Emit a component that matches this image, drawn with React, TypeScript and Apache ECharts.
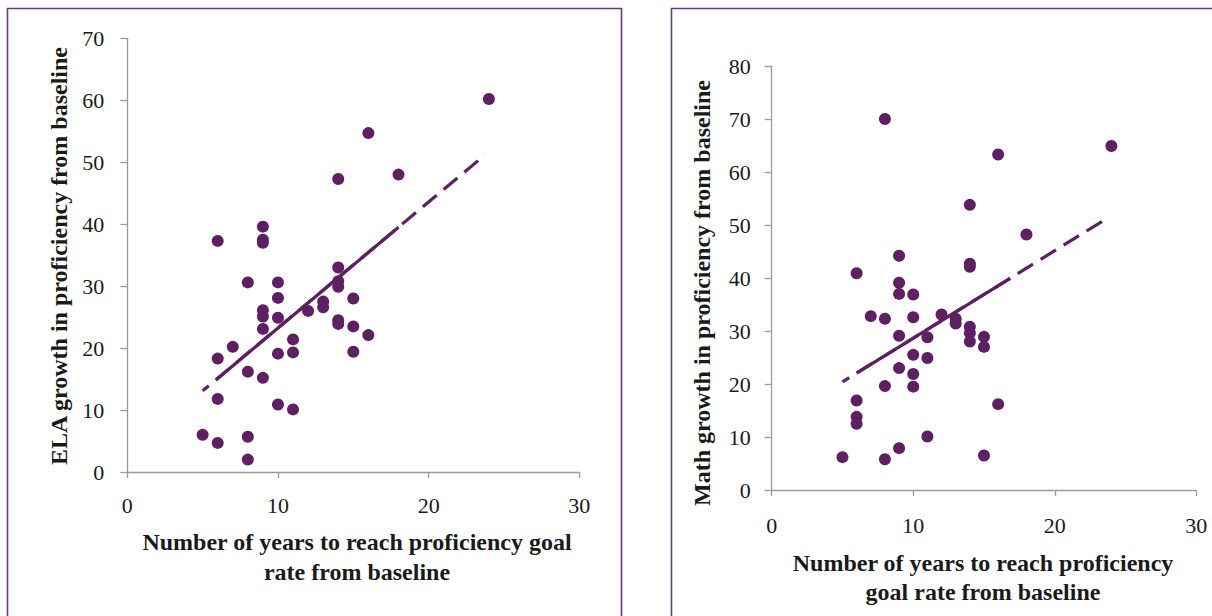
import React, { useEffect, useRef } from "react";
import * as echarts from "echarts";

// ---- Data ----
const xTicks = [0, 10, 20, 30];
const elaYMax = 70;
const mathYMax = 80;

const elaPoints: [number, number][] = [
  [24, 60.2], [16, 54.7], [18, 48.0], [14, 47.3], [9, 39.6], [9, 37.5], [9, 37.0],
  [6, 37.3], [14, 33.0], [14, 30.8], [14, 29.9], [8, 30.6], [10, 30.6], [10, 28.1],
  [15, 28.0], [13, 27.5], [13, 26.6], [12, 26.0], [9, 26.1], [9, 25.1], [10, 24.9],
  [14, 24.5], [14, 23.9], [9, 23.1], [15, 23.5], [16, 22.1], [11, 21.4], [7, 20.2],
  [10, 19.1], [11, 19.3], [15, 19.4], [6, 18.3], [8, 16.2], [9, 15.2], [6, 11.8],
  [10, 10.9], [11, 10.1], [5, 6.0], [6, 4.7], [8, 5.7], [8, 2.0],
];
const elaTrendDashed: [number, number][] = [[5, 13.1], [23.75, 51.2]];
const elaTrendSolid: [number, number][] = [[5.9, 14.9], [18, 39.5]];

const mathPoints: [number, number][] = [
  [8, 70.0], [24, 64.9], [16, 63.3], [14, 53.8], [18, 48.2], [9, 44.2], [14, 42.7],
  [14, 42.1], [6, 40.9], [9, 39.1], [9, 37.0], [10, 36.9], [7, 32.8], [8, 32.3],
  [10, 32.6], [12, 33.1], [13, 32.3], [13, 31.4], [14, 30.8], [14, 29.6], [14, 28.0],
  [15, 28.9], [15, 27.0], [9, 29.1], [11, 28.8], [10, 25.5], [11, 24.9], [9, 23.0],
  [10, 21.9], [8, 19.6], [10, 19.5], [6, 16.9], [6, 13.8], [6, 12.5], [16, 16.2],
  [11, 10.1], [9, 7.9], [5, 6.2], [8, 5.8], [15, 6.5],
];
const mathTrendDashed: [number, number][] = [[5, 20.4], [23.6, 51.1]];
const mathTrendSolid: [number, number][] = [[6, 22.05], [16.85, 39.95]];

const leftYTitle = "ELA growth in proficiency from baseline";
const rightYTitle = "Math growth in proficiency from baseline";
const leftXTitle = "Number of years to reach proficiency goal\nrate from baseline";
const rightXTitle = "Number of years to reach proficiency\ngoal rate from baseline";

// ---- Styles ----
const PURPLE = "#5f1f63";
const BORDER = "#6b3a7a";
const AXIS = "#9b9b9b";
const FONT = "'Liberation Serif', 'DejaVu Serif', serif";

function xAxisCfg(gridIndex: number, margin: number) {
  return {
    type: "value",
    gridIndex,
    min: xTicks[0],
    max: xTicks[xTicks.length - 1],
    interval: 10,
    axisLine: { show: true, lineStyle: { color: AXIS, width: 1.3 } },
    axisTick: { show: true, inside: false, length: 6, lineStyle: { color: AXIS, width: 1.3 } },
    axisLabel: { color: "#1a1a1a", fontFamily: FONT, fontSize: 22, margin },
    splitLine: { show: false },
  };
}

function yAxisCfg(gridIndex: number, max: number, margin: number) {
  return {
    type: "value",
    gridIndex,
    min: 0,
    max,
    interval: 10,
    axisLine: { show: true, lineStyle: { color: AXIS, width: 1.3 } },
    axisTick: { show: true, inside: false, length: 7, lineStyle: { color: AXIS, width: 1.3 } },
    axisLabel: { color: "#1a1a1a", fontFamily: FONT, fontSize: 22, margin },
    splitLine: { show: false },
  };
}

function scatter(data: [number, number][], idx: number) {
  return {
    type: "scatter",
    xAxisIndex: idx,
    yAxisIndex: idx,
    data,
    symbol: "circle",
    symbolSize: 12,
    itemStyle: { color: PURPLE, opacity: 1 },
    z: 2,
  };
}

function trend(data: [number, number][], idx: number, dashed: boolean) {
  return {
    type: "line",
    xAxisIndex: idx,
    yAxisIndex: idx,
    data,
    showSymbol: false,
    symbol: "none",
    silent: true,
    lineStyle: {
      color: PURPLE,
      width: 3.2,
      type: dashed ? [8, 9, 18, 9, 18, 9, 18, 9, 18, 9, 18, 9, 18, 9, 18, 9, 18, 9, 18, 9, 18, 9, 18, 9, 18, 9, 18, 9, 18, 9, 18, 9, 18, 9, 18, 9, 18, 9, 18, 9, 18, 9] : "solid",
      cap: "butt",
    },
    z: 3,
  };
}

export default function App() {
  const ref = useRef<HTMLDivElement>(null);

  useEffect(() => {
    if (!ref.current) return;
    const chart = echarts.init(ref.current, undefined, { renderer: "svg" });
    chart.setOption({
      animation: false,
      backgroundColor: "#ffffff",
      grid: [
        { left: 127.3, top: 38.3, width: 452, height: 433.7, containLabel: false },
        { left: 771.7, top: 66, width: 424.6, height: 424, containLabel: false },
      ],
      xAxis: [xAxisCfg(0, 22), xAxisCfg(1, 24)],
      yAxis: [yAxisCfg(0, elaYMax, 23), yAxisCfg(1, mathYMax, 21)],
      series: [
        scatter(elaPoints, 0),
        trend(elaTrendDashed, 0, true),
        trend(elaTrendSolid, 0, false),
        scatter(mathPoints, 1),
        trend(mathTrendDashed, 1, true),
        trend(mathTrendSolid, 1, false),
      ],
      graphic: [
        {
          type: "rect",
          shape: { x: 7.5, y: 8.5, width: 614, height: 640 },
          style: { fill: "none", stroke: BORDER, lineWidth: 1.6 },
          silent: true,
          z: 0,
        },
        {
          type: "rect",
          shape: { x: 671.5, y: 8.5, width: 580, height: 640 },
          style: { fill: "none", stroke: BORDER, lineWidth: 1.6 },
          silent: true,
          z: 0,
        },
        {
          type: "text",
          x: 59,
          y: 256,
          rotation: Math.PI / 2,
          style: {
            text: leftYTitle,
            fontFamily: FONT,
            fontWeight: "bold",
            fontSize: 24,
            fill: "#1a1a1a",
            textAlign: "center",
            textVerticalAlign: "middle",
          },
        },
        {
          type: "text",
          x: 702,
          y: 293,
          rotation: Math.PI / 2,
          style: {
            text: rightYTitle,
            fontFamily: FONT,
            fontWeight: "bold",
            fontSize: 24,
            fill: "#1a1a1a",
            textAlign: "center",
            textVerticalAlign: "middle",
          },
        },
        {
          type: "text",
          x: 357,
          y: 557,
          style: {
            text: leftXTitle,
            fontFamily: FONT,
            fontWeight: "bold",
            fontSize: 24,
            lineHeight: 30,
            fill: "#1a1a1a",
            textAlign: "center",
            textVerticalAlign: "middle",
          },
        },
        {
          type: "text",
          x: 983,
          y: 577,
          style: {
            text: rightXTitle,
            fontFamily: FONT,
            fontWeight: "bold",
            fontSize: 24,
            lineHeight: 29,
            fill: "#1a1a1a",
            textAlign: "center",
            textVerticalAlign: "middle",
          },
        },
      ],
    });
    return () => chart.dispose();
  }, []);

  return (
    <div
      ref={ref}
      style={{ position: "fixed", left: 0, top: 0, width: 1212, height: 616, background: "#fff" }}
    />
  );
}
